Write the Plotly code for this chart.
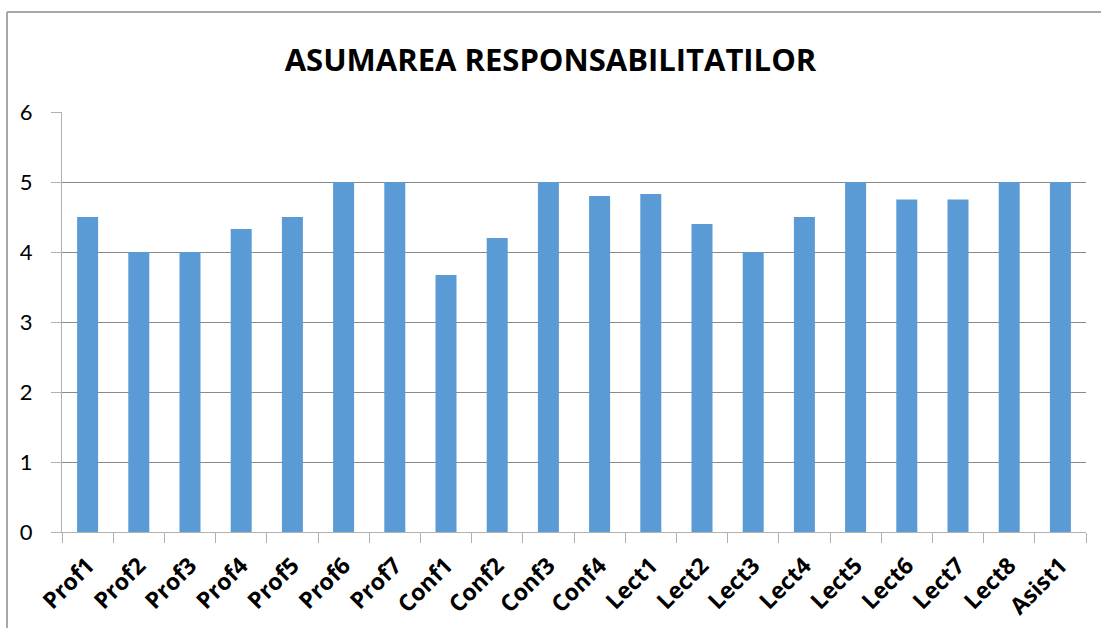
import plotly.graph_objects as go

categories = ["Prof1", "Prof2", "Prof3", "Prof4", "Prof5", "Prof6", "Prof7",
              "Conf1", "Conf2", "Conf3", "Conf4",
              "Lect1", "Lect2", "Lect3", "Lect4", "Lect5", "Lect6", "Lect7", "Lect8",
              "Asist1"]
values = [4.5, 4.0, 4.0, 4.33, 4.5, 5.0, 5.0,
          3.67, 4.2, 5.0, 4.8,
          4.83, 4.4, 4.0, 4.5, 5.0, 4.75, 4.75, 5.0,
          5.0]
y_ticks = [0, 1, 2, 3, 4, 5, 6]
title_text = "ASUMAREA RESPONSABILITATILOR"

W, H = 1101, 628
L, R, T, B = 62, 15, 112, 96
pw, ph = W - L - R, H - T - B

def px(x):
    return (x - L) / pw

def py(y):
    return (H - B - y) / ph

fig = go.Figure(go.Bar(x=categories, y=values, marker_color="#5b9bd5",
                       marker_line_width=0))

fig.update_layout(
    width=W, height=H,
    margin=dict(l=L, r=R, t=T, b=B, autoexpand=False),
    paper_bgcolor="white", plot_bgcolor="white",
    bargap=0.59,
    showlegend=False,
    font=dict(family="Lato, Open Sans, sans-serif", color="black"),
    title=dict(text="<b>" + title_text + "</b>", x=0.5, xanchor="center",
               y=1 - 60 / H, yanchor="middle",
               font=dict(size=31, family="Open Sans, sans-serif", color="black")),
    shapes=[
        dict(type="line", xref="paper", yref="paper", x0=px(7), x1=px(1105),
             y0=py(12), y1=py(12), line=dict(color="#8c8c8c", width=1.5)),
        dict(type="line", xref="paper", yref="paper", x0=px(7), x1=px(7),
             y0=py(12), y1=py(640), line=dict(color="#8c8c8c", width=1.5)),
    ],
)

fig.update_xaxes(
    type="category", tickangle=-45,
    tickfont=dict(size=23, family="Open Sans, sans-serif", color="black"),
    tickprefix="<b>", ticksuffix="</b>",
    showline=True, linecolor="#b0b0b0", linewidth=1,
    ticks="outside", tickson="boundaries", ticklen=10, tickcolor="#b0b0b0",
    showgrid=False, automargin=False, ticklabelstandoff=10,
)
fig.update_yaxes(
    range=[0, 6], tickvals=y_ticks,
    tickfont=dict(size=22, family="Lato, sans-serif", color="black"),
    showgrid=True, gridcolor="#8a8a8a", gridwidth=1,
    showline=True, linecolor="#b0b0b0", linewidth=1,
    ticks="outside", ticklen=10, tickcolor="#b0b0b0",
    zeroline=False, ticklabelstandoff=14, automargin=False,
)

fig.write_html("out.html",
               config={"displayModeBar": False},
               post_script="document.body.style.margin='0';document.body.style.overflow='hidden';")
